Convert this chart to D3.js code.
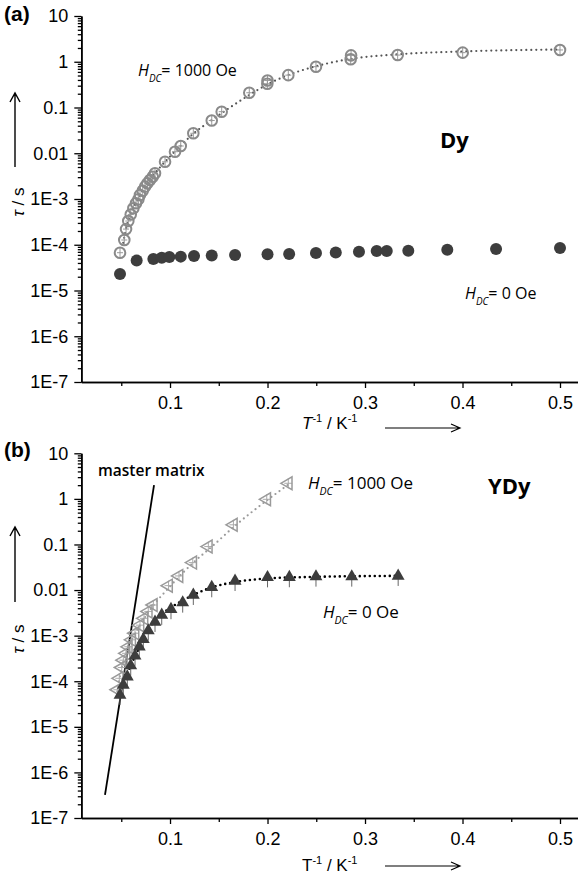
<!DOCTYPE html>
<html><head><meta charset="utf-8">
<script src="https://cdn.jsdelivr.net/npm/d3@7"></script>
<style>body{margin:0;background:#fff} svg{display:block}</style>
</head><body>
<svg id="c" width="578" height="881"></svg>
<script>
// ---- axes ----
const xTickValues=[0.1,0.2,0.3,0.4,0.5];
const xTickLabels=["0.1","0.2","0.3","0.4","0.5"];
const xMinorValues=[0.05,0.15,0.25,0.35,0.45];
const yTickValues=[10,1,0.1,0.01,1e-3,1e-4,1e-5,1e-6,1e-7];
const yTickLabels=["10","1","0.1","0.01","1E-3","1E-4","1E-5","1E-6","1E-7"];

// ---- panel (a) Dy ----
const dyZeroX=[0.0487,0.0658,0.0829,0.0915,0.0993,0.111,0.1246,0.1428,0.1667,0.2,0.2222,0.2497,0.27,0.2938,0.312,0.3223,0.3444,0.3844,0.4344,0.5];
const dyZeroY=[2.3e-5,4.5e-5,4.9e-5,5.2e-5,5.4e-5,5.5e-5,5.7e-5,5.8e-5,6.0e-5,6.2e-5,6.3e-5,6.6e-5,6.8e-5,7.0e-5,7.3e-5,7.3e-5,7.4e-5,7.8e-5,8.1e-5,8.5e-5];
const dyFieldX=[0.0487,0.0531,0.0549,0.0572,0.0597,0.0624,0.0651,0.0675,0.0692,0.072,0.0744,0.0767,0.0795,0.0823,0.0846,0.0949,0.1051,0.111,0.1239,0.1428,0.153,0.1813,0.1998,0.2,0.2213,0.2497,0.2853,0.2857,0.3335,0.4002,0.5];
const dyFieldY=[6.7e-5,1.27e-4,2.2e-4,3.3e-4,4.6e-4,6.3e-4,8.1e-4,9.8e-4,1.22e-3,1.52e-3,1.86e-3,2.2e-3,2.6e-3,3.07e-3,3.65e-3,6.5e-3,0.0108,0.0144,0.0273,0.052,0.081,0.21,0.33,0.39,0.51,0.78,1.13,1.38,1.4,1.58,1.81];
const dyFitX=[0.052,0.056,0.06,0.065,0.07,0.08,0.09,0.1,0.11,0.125,0.14,0.16,0.18,0.2,0.22,0.25,0.285,0.333,0.4,0.5];
const dyFitY=[1.1e-4,2.8e-4,5e-4,8e-4,1.3e-3,2.7e-3,5e-3,8.5e-3,0.014,0.028,0.048,0.095,0.18,0.32,0.5,0.8,1.15,1.45,1.68,1.85];

// ---- panel (b) YDy ----
const ydyFieldX=[0.046,0.048,0.0505,0.0521,0.0549,0.0572,0.0607,0.0641,0.0692,0.0733,0.0777,0.0829,0.0985,0.1092,0.1233,0.1393,0.165,0.1992,0.2213];
const ydyFieldY=[6.5e-5,1.16e-4,2.0e-4,2.9e-4,4.1e-4,5.7e-4,8.1e-4,1.13e-3,1.7e-3,2.4e-3,3.4e-3,4.7e-3,0.0125,0.0204,0.04,0.09,0.27,0.98,2.2];
const ydyZeroX=[0.0487,0.0521,0.0562,0.0597,0.0641,0.0685,0.0726,0.0777,0.0846,0.0915,0.101,0.113,0.1239,0.1428,0.1667,0.2,0.2224,0.2497,0.2864,0.334];
const ydyZeroY=[5.0e-5,8.3e-5,1.26e-4,2.2e-4,3.6e-4,5.7e-4,8.3e-4,1.29e-3,2.0e-3,2.85e-3,3.8e-3,5.3e-3,7.8e-3,0.0115,0.0158,0.019,0.0191,0.0197,0.0197,0.0204];
const ydyFieldFitX=[0.046,0.05,0.055,0.06,0.07,0.08,0.1,0.125,0.143,0.167,0.2,0.222];
const ydyFieldFitY=[6e-5,1.8e-4,4e-4,7.5e-4,1.8e-3,3.8e-3,0.012,0.042,0.09,0.26,0.95,2.1];
const ydyZeroFitX=[0.048,0.052,0.056,0.06,0.065,0.07,0.08,0.09,0.1,0.125,0.143,0.167,0.2,0.25,0.333];
const ydyZeroFitY=[4.5e-5,9e-5,1.4e-4,2.3e-4,3.8e-4,6.5e-4,1.6e-3,2.8e-3,4e-3,8e-3,0.0115,0.015,0.018,0.0195,0.0205];
const masterX=[0.0333,0.0836];
const masterY=[3.2e-7,2.0];

const svg=d3.select("#c");
const FONT="'Liberation Sans', Arial, sans-serif";
const OS="'Open Sans', 'Noto Sans', sans-serif";
const zip=(a,b)=>a.map((v,i)=>[v,b[i]]);

const yMinor=[];
for(let e=-7;e<1;e++){for(let k=2;k<10;k++){yMinor.push(k*Math.pow(10,e));}}

function makePanel(top,bottom){
  const x=d3.scaleLinear().domain([0.009,0.52]).range([81.3,579.5]);
  const y=d3.scaleLog().domain([1e-7,10]).range([bottom,top]);
  const g=svg.append("g");
  const ya=g.append("g").attr("transform",`translate(${x(0.009)},0)`)
    .call(d3.axisLeft(y).tickValues(yTickValues).tickFormat((d,i)=>yTickLabels[i]).tickSize(7).tickSizeOuter(0).tickPadding(6));
  const ym=g.append("g").attr("transform",`translate(${x(0.009)},0)`)
    .call(d3.axisLeft(y).tickValues(yMinor).tickFormat("").tickSize(3.5).tickSizeOuter(0));
  const xa=g.append("g").attr("transform",`translate(0,${bottom})`)
    .call(d3.axisBottom(x).tickValues(xTickValues).tickFormat((d,i)=>xTickLabels[i]).tickSize(6).tickSizeOuter(0).tickPadding(8));
  const xm=g.append("g").attr("transform",`translate(0,${bottom})`)
    .call(d3.axisBottom(x).tickValues(xMinorValues).tickFormat("").tickSize(4).tickSizeOuter(0));
  [ya,ym,xa,xm].forEach(a=>{
    a.selectAll("path.domain").attr("stroke","#000").attr("stroke-width",1.6);
    a.selectAll(".tick line").attr("stroke","#000").attr("stroke-width",1.3);
    a.selectAll("text").attr("font-family",FONT).attr("font-size",18).attr("fill","#000");
  });
  return {g,x,y};
}

function dotted(g,pts,x,y,color,w,gap){
  g.append("path").datum(pts)
    .attr("d",d3.line().x(d=>x(d[0])).y(d=>y(d[1])).curve(d3.curveMonotoneX))
    .attr("fill","none").attr("stroke",color).attr("stroke-width",w)
    .attr("stroke-linecap","round").attr("stroke-dasharray",`0,${gap}`);
}

function hdcLabel(g,xp,yp,rest,size){
  const t=g.append("text").attr("x",xp).attr("y",yp).attr("font-family",OS).attr("font-size",size).attr("fill","#000");
  t.append("tspan").attr("font-style","italic").text("H");
  t.append("tspan").attr("font-style","italic").attr("font-size",size*0.62).attr("dy",6).text("DC");
  t.append("tspan").attr("dy",-6).text(rest);
}

function arrowUp(xp,y1,y2){
  svg.append("path").attr("d",`M${xp},${y1}L${xp},${y2}M${xp-5},${y2+9}L${xp},${y2}L${xp+5},${y2+9}`)
    .attr("fill","none").attr("stroke","#000").attr("stroke-width",1.4);
}
function arrowRight(x1,x2,yp){
  svg.append("path").attr("d",`M${x1},${yp}L${x2},${yp}M${x2-9},${yp-4}L${x2},${yp}L${x2-9},${yp+4}`)
    .attr("fill","none").attr("stroke","#000").attr("stroke-width",1.2);
}
function tauLabel(xp,yp){
  const t=svg.append("text").attr("transform",`translate(${xp},${yp}) rotate(-90)`).attr("text-anchor","middle")
    .attr("font-family",FONT).attr("font-size",17).attr("fill","#000");
  t.append("tspan").attr("font-style","italic").text("τ");
  t.append("tspan").text(" / s");
}
function xTitle(xp,yp,italic){
  const t=svg.append("text").attr("x",xp).attr("y",yp).attr("font-family",FONT).attr("font-size",17).attr("fill","#000");
  t.append("tspan").attr("font-style",italic?"italic":"normal").text("T");
  t.append("tspan").attr("font-size",11).attr("dy",-7).text("-1");
  t.append("tspan").attr("dy",7).text(" / K");
  t.append("tspan").attr("font-size",11).attr("dy",-7).text("-1");
}

// ===== Panel (a) =====
{
  const {g,x,y}=makePanel(16,382);
  dotted(g,zip(dyFitX,dyFitY),x,y,"#555",2.2,5);
  g.selectAll(".z").data(zip(dyZeroX,dyZeroY)).join("circle")
    .attr("cx",d=>x(d[0])).attr("cy",d=>y(d[1])).attr("r",6).attr("fill","#3d3d3d");
  const pts=zip(dyFieldX,dyFieldY);
  const eg=g.append("g").attr("stroke","#999").attr("stroke-width",1);
  pts.forEach(d=>{
    const cx=x(d[0]),cy=y(d[1]);
    eg.append("line").attr("x1",cx).attr("x2",cx).attr("y1",cy-5).attr("y2",cy+5);
    eg.append("line").attr("x1",cx-3).attr("x2",cx+3).attr("y1",cy).attr("y2",cy);
  });
  g.selectAll(".f").data(pts).join("circle")
    .attr("cx",d=>x(d[0])).attr("cy",d=>y(d[1])).attr("r",5.3)
    .attr("fill","none").attr("stroke","#8a8a8a").attr("stroke-width",2);
  hdcLabel(g,138,76,"= 1000 Oe",16);
  hdcLabel(g,465,299,"= 0 Oe",16);
  g.append("text").attr("x",440).attr("y",148).attr("font-family",OS).attr("font-weight",700).attr("font-size",22).text("Dy");
  svg.append("text").attr("x",4).attr("y",21).attr("font-family",FONT).attr("font-weight",700).attr("font-size",21).text("(a)");
  arrowUp(15,167,93);
  tauLabel(24,202);
  xTitle(302,429,true);
  arrowRight(385,460,428);
}

// ===== Panel (b) =====
{
  const {g,x,y}=makePanel(453.3,818);
  g.append("path").datum(zip(masterX,masterY))
    .attr("d",d3.line().x(d=>x(d[0])).y(d=>y(d[1])))
    .attr("stroke","#000").attr("stroke-width",1.8).attr("fill","none");
  g.append("text").attr("x",98).attr("y",476).attr("font-family",OS).attr("font-weight",600).attr("font-size",15.5).text("master matrix");
  dotted(g,zip(ydyFieldFitX,ydyFieldFitY),x,y,"#9a9a9a",2.2,5);
  const tri=d3.symbol().type(d3.symbolTriangle).size(72);
  const fpts=zip(ydyFieldX,ydyFieldY);
  const eg=g.append("g").attr("stroke","#aaa").attr("stroke-width",1);
  fpts.forEach(d=>{
    const cx=x(d[0]),cy=y(d[1]);
    eg.append("line").attr("x1",cx).attr("x2",cx).attr("y1",cy-5).attr("y2",cy+5);
    eg.append("line").attr("x1",cx-4).attr("x2",cx+4).attr("y1",cy).attr("y2",cy);
  });
  g.selectAll(".ft").data(fpts).join("path")
    .attr("d",tri).attr("transform",d=>`translate(${x(d[0])},${y(d[1])}) rotate(-90)`)
    .attr("fill","none").attr("stroke","#9a9a9a").attr("stroke-width",1.5);
  dotted(g,zip(ydyZeroFitX,ydyZeroFitY),x,y,"#000",2.6,5);
  const zpts=zip(ydyZeroX,ydyZeroY);
  const zg=g.append("g").attr("stroke","#666").attr("stroke-width",1);
  zpts.forEach(d=>{
    const cx=x(d[0]),cy=y(d[1]);
    zg.append("line").attr("x1",cx).attr("x2",cx).attr("y1",cy).attr("y2",cy+10);
  });
  g.selectAll(".zt").data(zpts).join("path")
    .attr("d",tri).attr("transform",d=>`translate(${x(d[0])},${y(d[1])})`)
    .attr("fill","#3d3d3d");
  hdcLabel(g,308,489,"= 1000 Oe",17);
  hdcLabel(g,323,618,"= 0 Oe",17);
  g.append("text").attr("x",488).attr("y",494).attr("font-family",OS).attr("font-weight",700).attr("font-size",22).text("YDy");
  svg.append("text").attr("x",4).attr("y",457).attr("font-family",FONT).attr("font-weight",700).attr("font-size",21).text("(b)");
  arrowUp(15,602,527);
  tauLabel(24,639);
  xTitle(302,871,false);
  arrowRight(385,460,866);
}
</script>
</body></html>
